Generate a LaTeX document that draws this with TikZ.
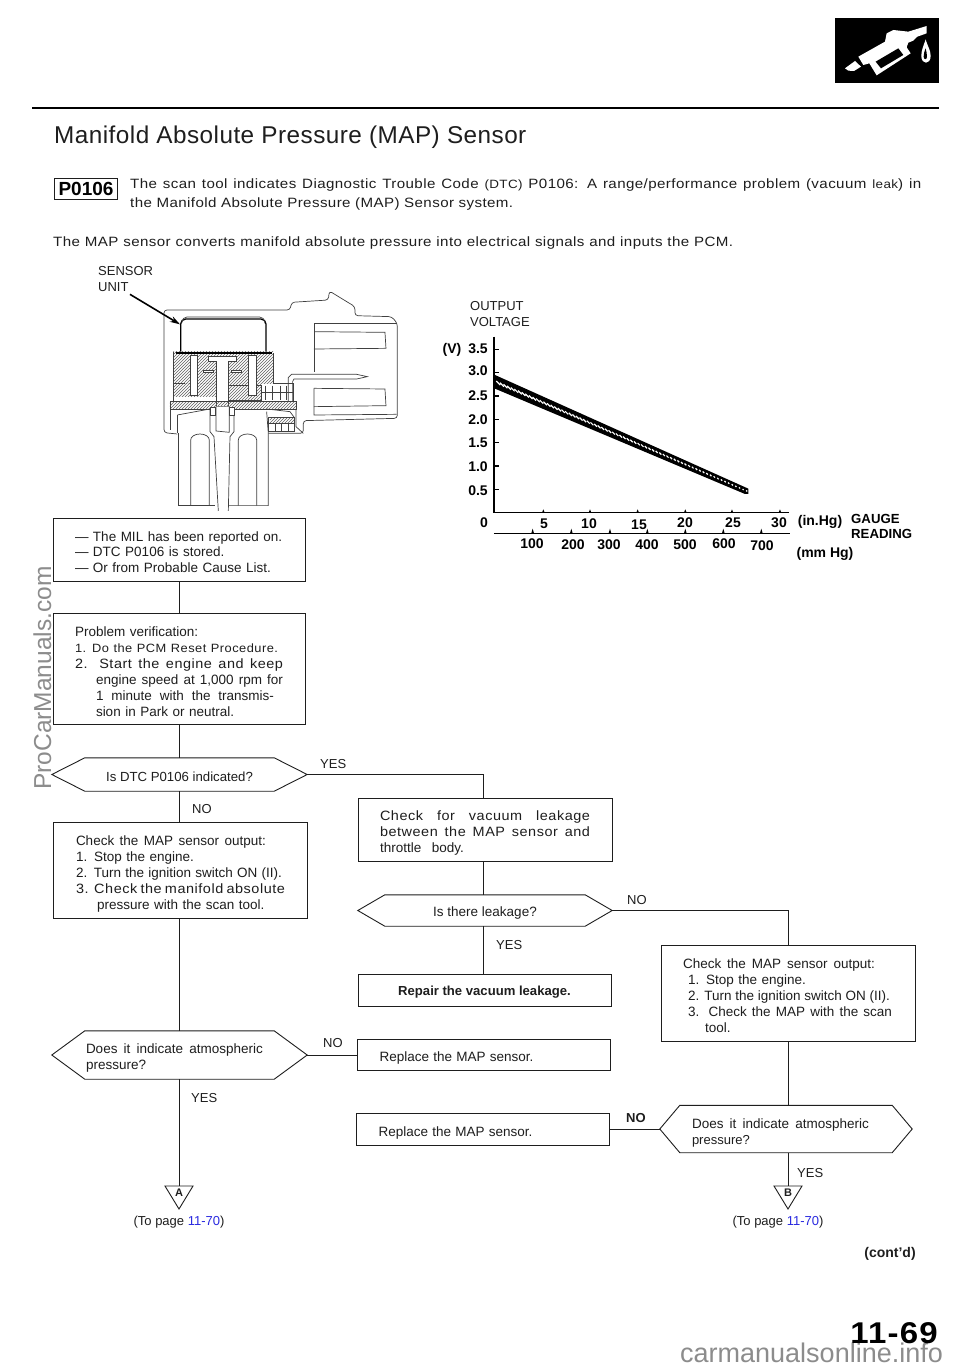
\documentclass[tikz,border=0pt]{standalone}
\usepackage{fontspec}
\setmainfont{Liberation Sans}
\usetikzlibrary{patterns,arrows.meta}
\definecolor{ink}{HTML}{1E1E1E}
\definecolor{lnk}{HTML}{2A2AE0}
\definecolor{wm}{HTML}{8C8C8C}
\newcommand{\fz}[2][16]{\fontsize{#2}{#1}\selectfont}
\newcommand{\jl}[2]{\makebox[#1pt][s]{\spaceskip=0pt\xspaceskip=0pt\relax #2}}
\newcommand{\jw}[2]{\makebox[#1pt][s]{\spaceskip=0pt\xspaceskip=0pt\relax\addfontfeature{FakeStretch=1.07,LetterSpace=4}#2}}
\newcommand{\wide}{\addfontfeature{FakeStretch=1.12,LetterSpace=3}}
\newcommand{\dn}[1]{\rule{0pt}{#1pt}}
\newcommand{\ind}{\hspace*{21pt}}
\newcommand{\hexa}[2]{\draw[conn] (#1.west) -- ([xshift=#2pt]#1.north west) -- ([xshift=-#2pt]#1.north east) -- (#1.east) -- ([xshift=-#2pt]#1.south east) -- ([xshift=#2pt]#1.south west) -- cycle;}
\newcommand{\trig}[1]{\draw[conn] ([shift={(-14,-7)}]#1.center) -- ([shift={(14,-7)}]#1.center) -- ([shift={(0,16)}]#1.center) -- cycle;}
\tikzset{
 conn/.style={draw=ink,line width=0.9pt},
 txt/.style={inner sep=0pt,anchor=base west,text=ink,font=\fz{13}},
 ctr/.style={inner sep=0pt,anchor=base,text=ink,font=\fz{13}},
 flowbox/.style={draw=ink,line width=0.9pt,text=ink,font=\fz{13.5},align=left,inner ysep=0pt},
 hexnode/.style={text=ink,font=\fz{13.5},align=left,inner ysep=0pt},
 blab/.style={inner sep=0pt,text=black,font=\bfseries\fz{14}},
 part/.style={draw=ink!85,line width=0.7pt},
}
\begin{document}
\begin{tikzpicture}[x=1pt,y=-1pt]
\useasboundingbox (0,0) rectangle (960,1371);
\fill[white] (0,0) rectangle (960,1371);

% watermarks
\node[inner sep=0pt,anchor=base west,rotate=90,text=wm,font=\fz{24.5}] (wmA) at (51,790) {ProCarManuals.com};
\node[inner sep=0pt,anchor=base west,text=wm,font=\fz{27}] (wmB) at (680,1362) {carmanualsonline.info};

% header icon
\fill[black] (835,18) rectangle (939,83);
\begin{scope}[shift={(780,0)},x=0.3333pt,y=-0.3333pt]
 \fill[white] (195,205) -- (225,183) -- (243,200) -- (222,213) -- (205,212) -- cycle;
 \fill[white] (235,170) -- (315,125) -- (320,100) -- (340,90) -- (385,95) -- (440,78) -- (440,100) -- (412,110) -- (400,122) -- (385,128) -- (380,142) -- (392,160) -- (290,226) -- (268,190) -- (250,195) -- cycle;
 \fill[black] (287,185) -- (355,145) -- (370,165) -- (303,205) -- cycle;
 \fill[white] (437,118) .. controls (430,140) and (424,150) .. (424,168) .. controls (424,195) and (452,195) .. (452,168) .. controls (452,150) and (443,140) .. (437,118) -- cycle;
 \fill[black] (437,145) .. controls (433,155) and (431,160) .. (431,170) .. controls (431,180) and (441,180) .. (441,170) .. controls (441,160) and (439,155) .. (437,145) -- cycle;
\end{scope}
\draw[black,line width=2pt] (32,108) -- (939,108);

% title
\node[txt,font=\fz{24.3}] (title) at (54,143) {\addfontfeature{LetterSpace=1.9}Manifold Absolute Pressure (MAP) Sensor};
\node[draw=ink,line width=1pt,minimum width=63pt,minimum height=21pt,inner sep=0pt,font=\bfseries\fz{19},text=black] (code) at (86,188.5) {P0106};
\node[txt,font=\fz{13.5}] (introA) at (130,188) {\jl{791}{\wide The scan tool indicates Diagnostic Trouble Code {\fz{12}(DTC)} P0106: A range/performance problem (vacuum {\fz{12}leak}) in}};
\node[txt,font=\fz{13.5}] (introB) at (130,207) {\jl{383}{\wide the Manifold Absolute Pressure (MAP) Sensor system.}};
\node[txt,font=\fz{13.5}] (introC) at (53,246) {\jl{680}{\wide The MAP sensor converts manifold absolute pressure into electrical signals and inputs the PCM.}};

% sensor drawing
\node[txt] (suA) at (98,275) {SENSOR};
\node[txt] (suB) at (98,291) {UNIT};
\begin{scope}[shift={(90,255)},x=0.3333pt,y=-0.3333pt]
 % housing
 \draw[part,rounded corners=3pt] (262,537) -- (222,533) -- (222,165) -- (600,165) -- (605,142) -- (715,135) -- (718,108) -- (795,155) -- (795,182) -- (905,185) -- (922,205) -- (922,490) -- (640,497) -- (640,535) -- (535,535);
 % connector cavity
 \draw[part] (920,205) -- (672,205) -- (672,350);
 \draw[part] (672,400) -- (672,480) -- (920,478);
 \draw[part] (675,230) -- (885,232) -- (888,280) -- (672,282);
 \draw[part] (672,400) -- (885,402) -- (888,452) -- (672,455);
 % pin
 \draw[part] (595,440) -- (595,368) -- (605,358) -- (800,358) -- (832,365) -- (800,372) -- (612,372) -- (608,380) -- (608,440);
 % cap
 \draw[black,line width=1.3pt,rounded corners=5pt] (272,290) -- (272,192) -- (528,192) -- (528,290);
 \draw[part,rounded corners=5pt] (276,200) -- (276,186) -- (524,186) -- (524,200);
 % body
 \fill[pattern=north east lines,pattern color=ink!70] (250,290) rectangle (550,385);
 \fill[pattern=north east lines,pattern color=ink!70] (250,385) rectangle (380,425);
 \fill[pattern=north east lines,pattern color=ink!70] (392,390) rectangle (515,436);
 \draw[part] (250,290) -- (250,440);
 \draw[part] (550,295) -- (550,385) -- (610,385) -- (610,440);
 \draw[part] (250,385) -- (285,385);
 \draw[part] (392,390) -- (515,390) -- (515,436) -- (392,436) -- cycle;
 \draw[part] (515,412) -- (610,412);
 \foreach \xx in {525,548,570,590}{\draw[part] (\xx,392) -- (\xx,436);}
 \fill[white,draw=ink!85,line width=0.7pt] (302,300) rectangle (322,420);
 \fill[white,draw=ink!85,line width=0.7pt] (476,300) rectangle (498,420);
 \fill[white,draw=ink!85,line width=0.7pt] (355,305) -- (440,305) -- (440,320) -- (415,320) -- (415,455) -- (380,455) -- (380,320) -- (355,320) -- cycle;
 \fill[white,draw=ink!85,line width=0.7pt] (340,345) -- (370,345) -- (370,352) -- (340,352) -- cycle;
 \fill[white,draw=ink!85,line width=0.7pt] (425,345) -- (455,345) -- (455,352) -- (425,352) -- cycle;
 \draw[black,line width=1.8pt] (258,294) -- (545,294);
 % flange
 \fill[pattern=north east lines,pattern color=ink!70] (240,440) rectangle (618,462);
 \draw[part] (240,440) -- (618,440) -- (618,462) -- (240,462) -- cycle;
 \draw[part] (240,462) -- (240,525);
 \draw[part] (618,462) -- (618,515) -- (640,535);
 \draw[part] (262,480) -- (360,462);
 \draw[part] (262,480) -- (262,535);
 \draw[part] (530,462) -- (600,470) -- (615,490);
 \fill[pattern=north east lines,pattern color=ink!70] (540,488) rectangle (612,505);
 \draw[part] (535,488) rectangle (612,530);
 \draw[part] (535,505) -- (612,505);
 \foreach \xx in {555,575,595}{\draw[part] (\xx,505) -- (\xx,530);}
 % stems
 \draw[part] (265,535) -- (265,752) -- (375,752);
 \draw[part] (302,752) -- (302,555) arc (180:360:28 and 18) -- (358,752);
 \draw[part] (530,470) -- (535,535) -- (535,752) -- (415,752);
 \draw[part] (445,752) -- (445,555) arc (180:360:27.5 and 18) -- (500,752);
 \draw[part] (360,462) -- (360,530) -- (372,545) -- (385,768);
 \draw[part] (432,462) -- (432,530) -- (420,545) -- (415,768);
 \draw[part,fill=white] (378,455) -- (378,528) -- (418,532) -- (418,455);
 \draw[part,fill=white] (362,456) rectangle (377,480);
 \draw[part,fill=white] (419,456) rectangle (432,480);
 % leader
 \coordinate (capC) at (270,208);
 \coordinate (leadS) at (120,118);
 \draw[black,line width=1.6pt,-{Stealth[length=10pt,width=6pt]}] (leadS) -- (capC);
\end{scope}

% chart
\node[txt] (ovA) at (470,310) {OUTPUT};
\node[txt] (ovB) at (470,326) {VOLTAGE};
\begin{scope}[shift={(430,290)},x=0.3333pt,y=-0.3333pt]
 \draw[black,line width=1.5pt] (192,140) -- (192,668) -- (1078,668);
 \draw[black,line width=1.5pt] (192,730) -- (1080,730);
 \foreach \yy in {178,248,318,388,458,528,598}{\draw[black,line width=1.2pt] (192,\yy) -- (206,\yy);}
 \foreach \xx in {340,480,623,766,906,1050}{\fill[black] (\xx-4,668) -- (\xx,658) -- (\xx+4,668) -- cycle;}
 \foreach \xx in {308,424,540,652,766,880,994}{\fill[black] (\xx-4,730) -- (\xx,716) -- (\xx+4,730) -- cycle;}
 \fill[black] (195,255) -- (955,596) -- (955,612) -- (945,612) -- (195,296) -- cycle;
 \foreach \t in {0,1,...,69}{
  \pgfmathsetmacro{\cx}{205+\t*10.8}
  \pgfmathsetmacro{\cy}{275+(\cx-195)*0.4345}
  \pgfmathsetmacro{\hh}{max(1.5,6-\t*0.065)}
  \draw[white,line width=1.2pt] (\cx-\hh,\cy-\hh) -- (\cx+\hh,\cy+\hh);
 }
\end{scope}
\node[blab] (yV) at (452,350) {(V)};
\node[blab] (y35) at (478,349) {3.5};
\node[blab] (y30) at (478,371) {3.0};
\node[blab] (y25) at (478,396) {2.5};
\node[blab] (y20) at (478,420) {2.0};
\node[blab] (y15) at (478,443) {1.5};
\node[blab] (y10) at (478,467) {1.0};
\node[blab] (y05) at (478,491) {0.5};
\node[blab] (x0) at (484,523) {0};
\node[blab] (x5) at (544,524) {5};
\node[blab] (x10) at (589,524) {10};
\node[blab] (x15) at (639,525) {15};
\node[blab] (x20) at (685,523) {20};
\node[blab] (x25) at (733,523) {25};
\node[blab] (x30) at (779,523) {30};
\node[blab] (m100) at (532,544) {100};
\node[blab] (m200) at (573,545) {200};
\node[blab] (m300) at (609,545) {300};
\node[blab] (m400) at (647,545) {400};
\node[blab] (m500) at (685,545) {500};
\node[blab] (m600) at (724,544) {600};
\node[blab] (m700) at (762,546) {700};
\node[blab] (inhg) at (820,522) {(in.Hg)};
\node[blab,anchor=west,font=\bfseries\fz{13.2}] (gaA) at (851,519) {GAUGE};
\node[blab,anchor=west,font=\bfseries\fz{13.2}] (gaB) at (851,534) {READING};
\node[blab] (mmhg) at (825,554) {(mm Hg)};

% left flow
\node[flowbox,text width=216pt,inner xsep=18pt,minimum height=63pt] (b1) at (179,549.5) {\dn{15.7}\hspace*{4pt}--- The MIL has been reported on.\\[-1pt]\hspace*{4pt}--- DTC P0106 is stored.\\\hspace*{4pt}--- Or from Probable Cause List.};
\node[flowbox,text width=208pt,inner xsep=22pt,minimum height=111pt] (b2) at (179,668.5) {\dn{15.7}Problem verification:\\{\fz{12}\jw{203}{1.\hspace{6pt}Do the PCM Reset Procedure.}}\\\jw{208}{2. Start the engine and keep}\\\ind\jl{187}{engine speed at 1,000 rpm for}\\\ind\jl{178}{1 minute with the transmis-}\\\ind sion in Park or neutral.};
\node[hexnode,font=\fz{13.2},minimum width=255pt,minimum height=33pt,inner xsep=0pt] (d1) at (179.5,774.5) {\dn{13.7}Is DTC P0106 indicated?};
\hexa{d1}{33}
\node[flowbox,text width=208pt,inner xsep=23pt,minimum height=96pt] (b3) at (180,870) {\dn{18.7}\jl{190}{Check the MAP sensor output:}\\1. Stop the engine.\\\jl{206}{2. Turn the ignition switch ON (II).}\\\jw{209}{3. Check the manifold absolute}\\\ind pressure with the scan tool.};
\node[hexnode,text width=187pt,inner xsep=34pt,minimum height=48pt] (d2) at (179.5,1055) {\dn{16.7}\jl{177}{Does it indicate atmospheric}\\pressure?};
\hexa{d2}{33}
\node[inner sep=0pt,font=\bfseries\fz{11},text=ink] (ta) at (179,1193) {A};
\trig{ta}

% middle flow
\node[flowbox,text width=230pt,inner xsep=12pt,minimum height=63pt] (b4) at (485,829.5) {\dn{17.7}\hspace*{10pt}\jw{210}{Check for vacuum leakage}\\\hspace*{10pt}\jw{210}{between the MAP sensor and}\\\hspace*{10pt}\jl{84}{throttle body.}};
\node[hexnode,minimum width=254pt,minimum height=31pt,inner xsep=0pt] (d3) at (485,910.5) {\dn{15.7}Is there leakage?};
\hexa{d3}{27}
\node[flowbox,minimum width=253pt,minimum height=32pt,inner sep=0pt,align=center,font=\bfseries\fz{13.1}] (b5) at (484.5,990) {\dn{13.7}Repair the vacuum leakage.};
\node[flowbox,text width=230pt,inner xsep=11.5pt,minimum height=31pt] (b6) at (483.5,1054.5) {\dn{17.7}\hspace*{11pt}\jl{154}{Replace the MAP sensor.}};
\node[flowbox,text width=230pt,inner xsep=11.5pt,minimum height=32pt] (b7) at (482.5,1129) {\dn{17.7}\hspace*{11pt}\jl{154}{Replace the MAP sensor.}};

% right flow
\node[flowbox,text width=232pt,inner xsep=11pt,minimum height=96pt] (b8) at (788,993) {\dn{15.7}\hspace*{11pt}\jl{192}{Check the MAP sensor output:}\\\hspace*{16pt}1. Stop the engine.\\\hspace*{16pt}\jl{202}{2. Turn the ignition switch ON (II).}\\\hspace*{16pt}\jl{204}{3. Check the MAP with the scan}\\\hspace*{33pt}tool.};
\node[hexnode,minimum width=252pt,minimum height=47pt,text width=220pt,inner xsep=16pt] (d4) at (786,1129) {\dn{17.7}\hspace*{16pt}\jl{177}{Does it indicate atmospheric}\\\hspace*{16pt}{\fz{13}pressure?}};
\hexa{d4}{20}
\node[inner sep=0pt,font=\bfseries\fz{11},text=ink] (tb) at (788,1193) {B};
\trig{tb}

% connectors
\coordinate (turnYes) at (b4.north |- d1.east);
\coordinate (turnNo) at (b8.north |- d3.east);
\draw[conn] (b1.south -| b2.north) -- (b2.north);
\draw[conn] (b2.south) -- (d1.north -| b2.south);
\draw[conn] (d1.south -| b2.south) -- (b3.north -| b2.south);
\draw[conn] (b3.south -| b2.south) -- (d2.north -| b2.south);
\draw[conn] (d2.south -| ta) -- (ta.center |- 0,1186);
\draw[conn] (d1.east) -- ([xshift=-2pt]turnYes) -- ([xshift=-2pt]b4.north);
\draw[conn] ([xshift=-2pt]b4.south) -- ([xshift=-2pt]b4.south |- d3.north);
\draw[conn] ([xshift=-2pt]d3.south) -- ([xshift=-2pt]d3.south |- b5.north);
\draw[conn] (d3.east) -- (turnNo) -- (b8.north);
\draw[conn] (b8.south) -- (b8.south |- d4.north);
\draw[conn] (d2.east) -- (b6.west |- d2.east);
\draw[conn] (b7.east) -- (d4.west);
\draw[conn] (tb.center |- d4.south) -- (tb.center |- 0,1186);

% flow labels
\node[txt] (lYes1) at (320,768) {YES};
\node[txt] (lNo1) at (192,813) {NO};
\node[txt] (lNo2) at (323,1047) {NO};
\node[txt] (lYes2) at (191,1102) {YES};
\node[txt] (lNo3) at (627,904) {NO};
\node[txt] (lYes3) at (496,949) {YES};
\node[txt,font=\bfseries\fz{13}] (lNo4) at (626,1122) {NO};
\node[txt] (lYes4) at (797,1177) {YES};
\node[ctr] (pgA) at (179,1225) {(To page {\color{lnk}11-70})};
\node[ctr] (pgB) at (778,1225) {(To page {\color{lnk}11-70})};

% footer
\node[inner sep=0pt,font=\bfseries\fz{14},text=ink] (contd) at (890,1254) {(cont'd)};
\node[inner sep=0pt,anchor=base east,font=\bfseries\fz{30},text=black] (pageno) at (938,1343) {\addfontfeature{FakeStretch=1.1,LetterSpace=4}11-69};
\end{tikzpicture}
\end{document}
